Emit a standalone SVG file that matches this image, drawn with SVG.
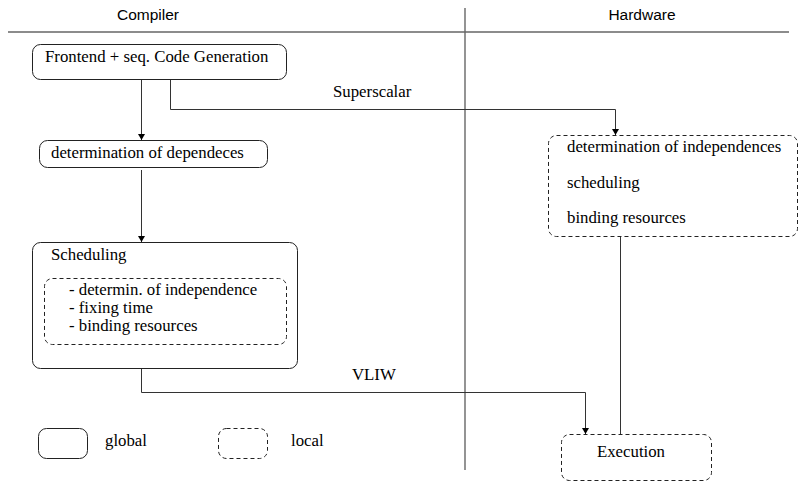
<svg xmlns="http://www.w3.org/2000/svg" width="799" height="482" viewBox="0 0 799 482">
<defs>
<style>
text{font-family:"Liberation Serif","Times New Roman",serif;font-size:16.8px;fill:#000}
.hdr{font-family:"Liberation Sans",Arial,sans-serif;font-size:15.5px}
.g{fill:#fff;stroke:#222;stroke-width:1}
.l{fill:none;stroke:#222;stroke-width:1;stroke-dasharray:4 3}
.c{fill:none;stroke:#333;stroke-width:1}
.d{fill:none;stroke:#666;stroke-width:1.4}
</style>
<marker id="ah" viewBox="0 0 6 10" refX="6" refY="5" markerWidth="6" markerHeight="10" orient="auto" markerUnits="userSpaceOnUse">
<path d="M0,1.5 L6,5 L0,8.5 z" fill="#000"/>
</marker>
</defs>
<rect width="799" height="482" fill="#fff"/>
<g id="dividers">
<line class="d" x1="8" y1="32" x2="789" y2="32"/>
<line class="d" x1="465" y1="8" x2="465" y2="470"/>
<text class="hdr" x="148" y="20" text-anchor="middle">Compiler</text>
<text class="hdr" x="642" y="20" text-anchor="middle">Hardware</text>
</g>
<g id="connectors">
<path class="c" d="M141.5,80 V140" marker-end="url(#ah)"/>
<path class="c" d="M170.5,80 V109.5 H615.5 V135" marker-end="url(#ah)"/>
<path class="c" d="M141.5,170 V242" marker-end="url(#ah)"/>
<path class="c" d="M141.5,368 V392.5 H585.5 V434" marker-end="url(#ah)"/>
<path class="c" d="M620.5,236 V434"/>
<text x="333" y="97">Superscalar</text>
<text x="352" y="380">VLIW</text>
</g>
<g id="frontend">
<rect class="g" x="32.5" y="44.5" width="254" height="35" rx="8"/>
<text x="45" y="62">Frontend + seq. Code Generation</text>
</g>
<g id="dependences">
<rect class="g" x="39.5" y="140.5" width="228" height="27" rx="8"/>
<text x="51" y="158">determination of dependeces</text>
</g>
<g id="scheduling">
<rect class="g" x="32.5" y="242.5" width="265" height="126" rx="8"/>
<text x="51" y="260">Scheduling</text>
<rect class="l" x="44.5" y="278.5" width="242" height="66" rx="8"/>
<text x="69" y="295">- determin. of independence</text>
<text x="69" y="313">- fixing time</text>
<text x="69" y="331">- binding resources</text>
</g>
<g id="hw">
<rect class="l" x="548.5" y="135.5" width="249" height="101" rx="8"/>
<text x="567" y="152">determination of independences</text>
<text x="567" y="188">scheduling</text>
<text x="567" y="223">binding resources</text>
</g>
<g id="execution">
<rect class="l" x="561.5" y="434.5" width="150" height="46" rx="8"/>
<text x="631" y="457" text-anchor="middle">Execution</text>
</g>
<g id="legend-global">
<rect class="g" x="38.5" y="428.5" width="49" height="30" rx="8"/>
<text x="105" y="446">global</text>
</g>
<g id="legend-local">
<rect class="l" x="218.5" y="428.5" width="49" height="30" rx="8"/>
<text x="291" y="446">local</text>
</g>
</svg>
